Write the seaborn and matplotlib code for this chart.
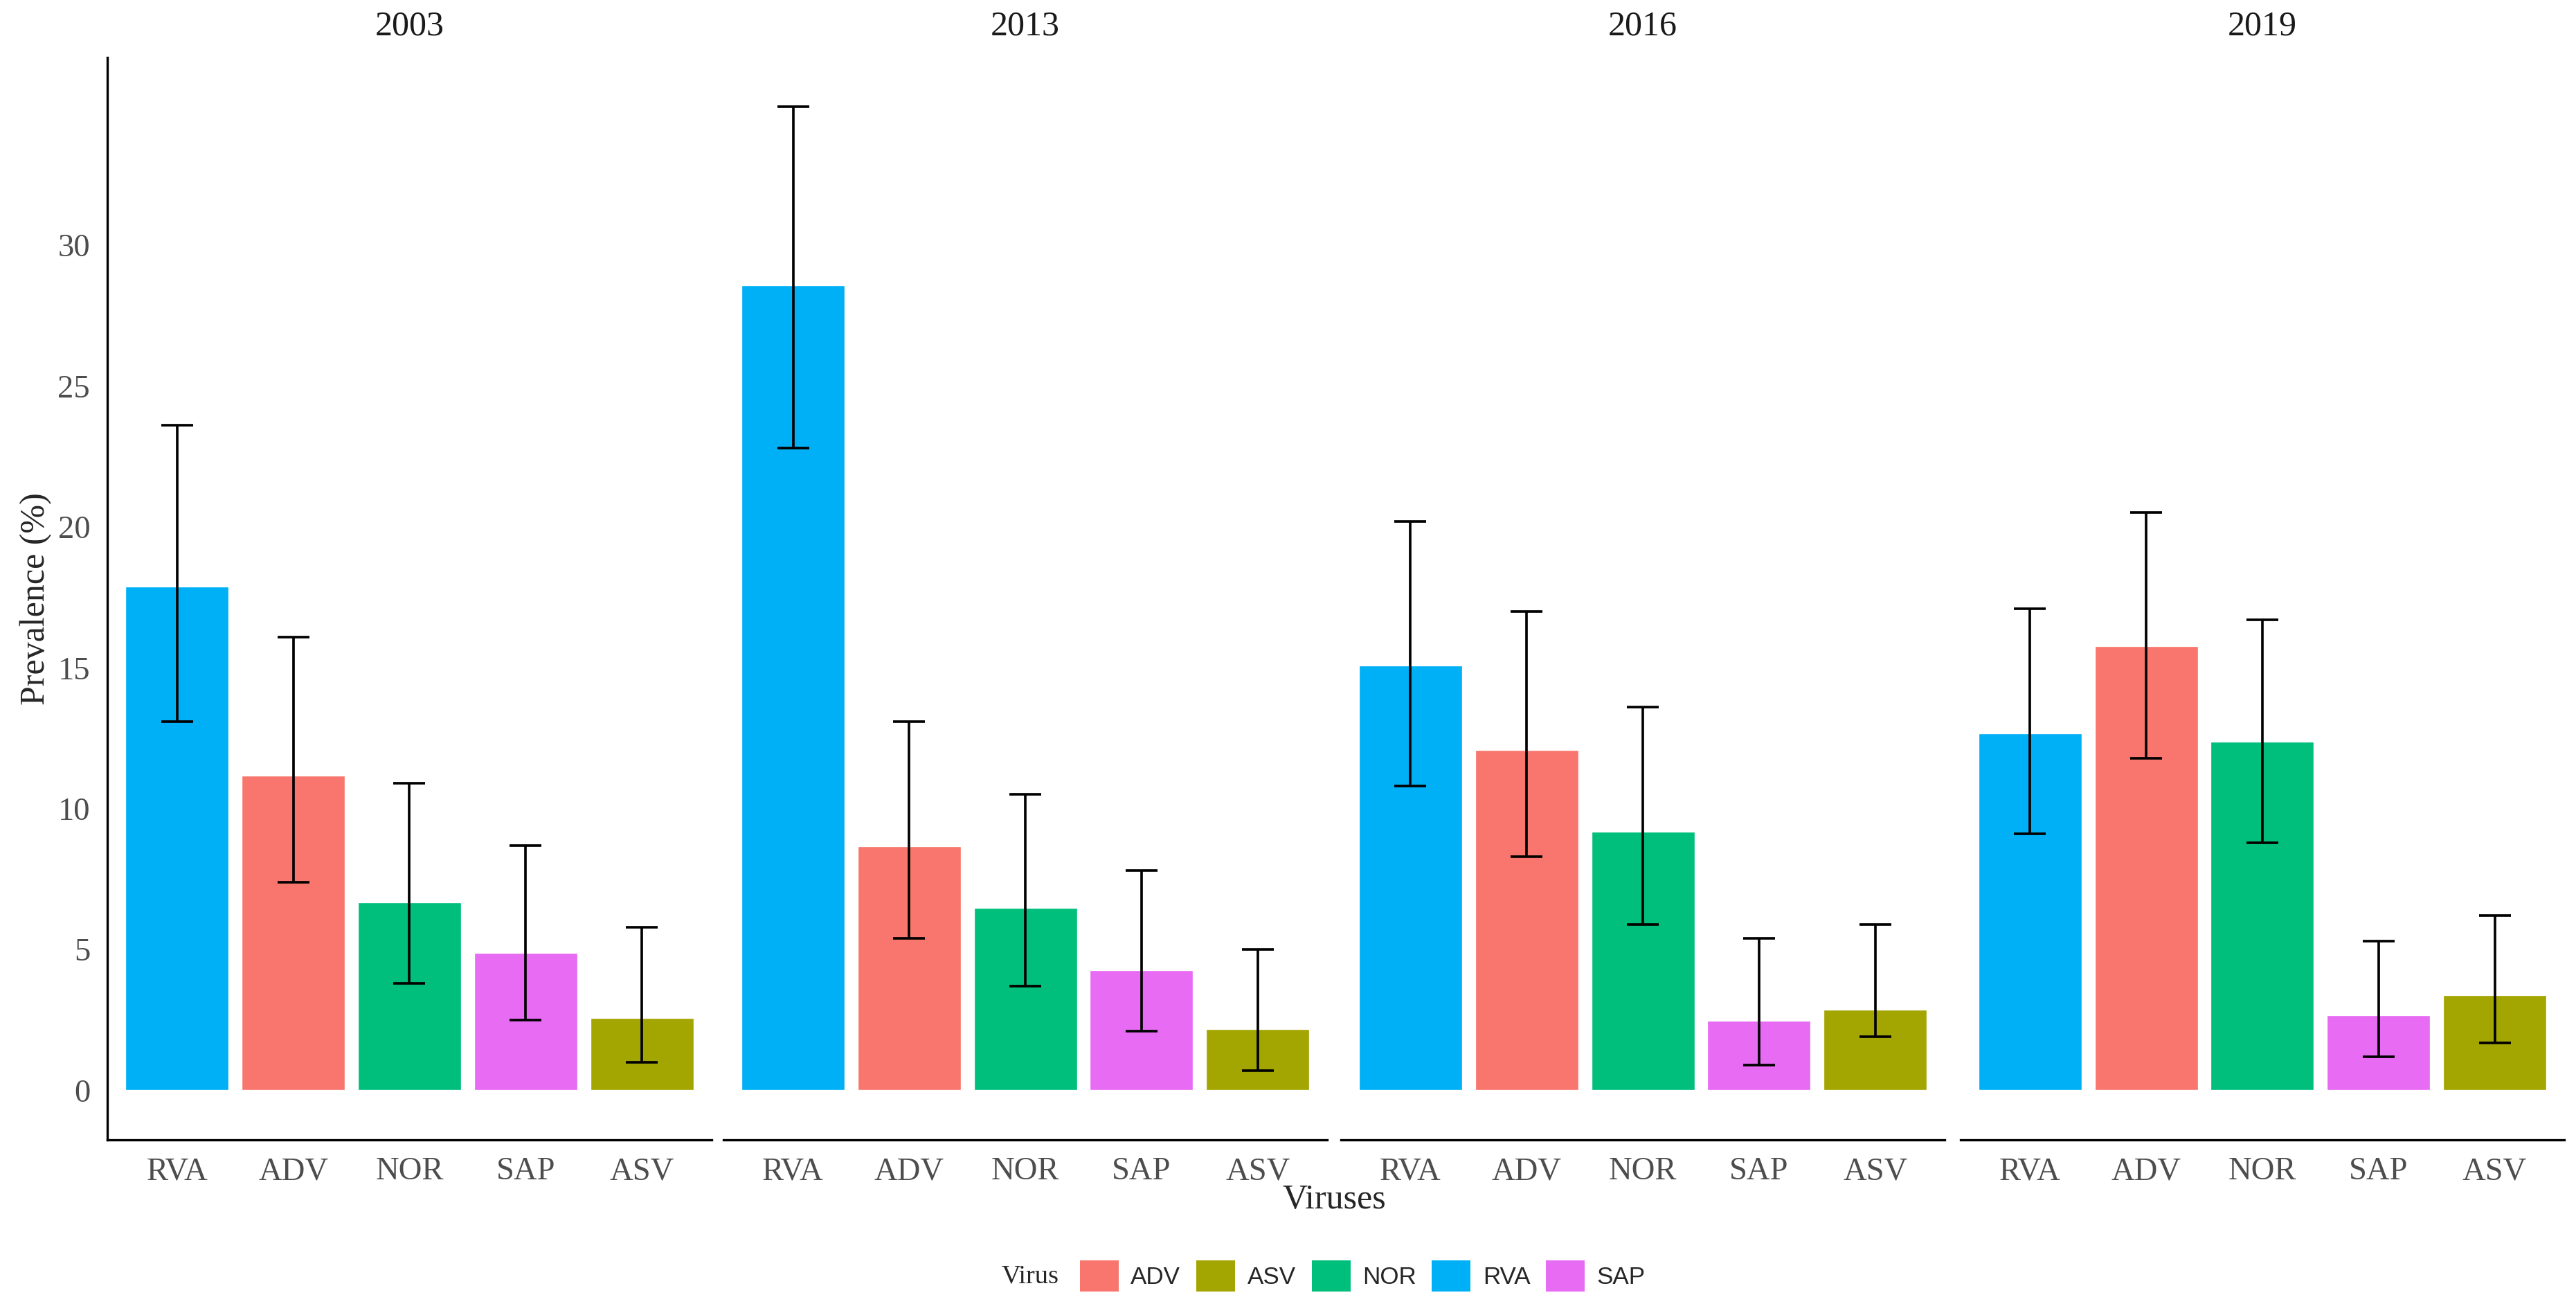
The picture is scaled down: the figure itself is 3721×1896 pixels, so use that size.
import numpy as np
import pandas as pd
import seaborn as sns
import matplotlib
matplotlib.use("Agg")
import matplotlib.pyplot as plt
from matplotlib.patches import Patch

# data
years = ["2003", "2013", "2016", "2019"]
viruses = ["RVA", "ADV", "NOR", "SAP", "ASV"]

prev_2003 = [17.9, 11.2, 6.7, 4.9, 2.6]
low_2003 = [13.1, 7.4, 3.8, 2.5, 1.0]
high_2003 = [23.6, 16.1, 10.9, 8.7, 5.8]

prev_2013 = [28.6, 8.7, 6.5, 4.3, 2.2]
low_2013 = [22.8, 5.4, 3.7, 2.1, 0.7]
high_2013 = [34.9, 13.1, 10.5, 7.8, 5.0]

prev_2016 = [15.1, 12.1, 9.2, 2.5, 2.9]
low_2016 = [10.8, 8.3, 5.9, 0.9, 1.9]
high_2016 = [20.2, 17.0, 13.6, 5.4, 5.9]

prev_2019 = [12.7, 15.8, 12.4, 2.7, 3.4]
low_2019 = [9.1, 11.8, 8.8, 1.2, 1.7]
high_2019 = [17.1, 20.5, 16.7, 5.3, 6.2]

legend_order = ["ADV", "ASV", "NOR", "RVA", "SAP"]
palette = {"ADV": "#F8766D", "ASV": "#A3A500", "NOR": "#00BF7D",
           "RVA": "#00B0F6", "SAP": "#E76BF3"}

rows = []
for yr, p, lo, hi in zip(years,
                         [prev_2003, prev_2013, prev_2016, prev_2019],
                         [low_2003, low_2013, low_2016, low_2019],
                         [high_2003, high_2013, high_2016, high_2019]):
    for v, a, b, c in zip(viruses, p, lo, hi):
        rows.append({"Year": yr, "Virus": v, "Prevalence": a, "Low": b, "High": c})
df = pd.DataFrame(rows)

sns.set_style("white")
plt.rcParams["font.family"] = ["Liberation Serif", "DejaVu Serif"]

fig = plt.figure(figsize=(3721 / 240, 1896 / 240), dpi=240)

lefts = [0.0417, 0.2808, 0.5205, 0.7610]
width = 0.2345
bottom, top = 0.132, 0.956
axes = []
for i, yr in enumerate(years):
    ax = fig.add_axes([lefts[i], bottom, width, top - bottom],
                      sharey=axes[0] if axes else None)
    axes.append(ax)
    d = df[df["Year"] == yr]
    sns.barplot(data=d, x="Virus", y="Prevalence", hue="Virus", order=viruses,
                palette=palette, width=0.9, saturation=1, legend=False, ax=ax)
    vals = d["Prevalence"].to_numpy()
    yerr = [vals - d["Low"].to_numpy(), d["High"].to_numpy() - vals]
    ax.errorbar(x=np.arange(len(viruses)), y=vals, yerr=yerr, fmt="none",
                ecolor="black", elinewidth=1.1, capsize=7, capthick=1.1, zorder=3)
    ax.set_xlim(-0.6, 4.6)
    ax.set_ylim(-1.745, 36.645)
    ax.set_title(yr, fontsize=15, color="#1A1A1A", pad=10)
    ax.set_xlabel("")
    ax.set_ylabel("")
    for s in ["top", "right"]:
        ax.spines[s].set_visible(False)
    ax.spines["bottom"].set_linewidth(1.0)
    ax.spines["bottom"].set_color("black")
    ax.tick_params(axis="x", length=3.5, width=1.0, color="#333333",
                   labelsize=14, labelcolor="#4D4D4D", pad=4)
    if i == 0:
        ax.spines["left"].set_linewidth(1.0)
        ax.spines["left"].set_color("black")
        ax.set_yticks([0, 5, 10, 15, 20, 25, 30])
        ax.tick_params(axis="y", length=3.5, width=1.0, color="#333333",
                       labelsize=14, labelcolor="#4D4D4D", pad=4)
    else:
        ax.spines["left"].set_visible(False)
        ax.tick_params(axis="y", left=False, labelleft=False)

fig.text(0.014, (bottom + top) / 2, "Prevalence (%)", rotation=90,
         ha="center", va="center", fontsize=15)
fig.text(0.518, 0.086, "Viruses", ha="center", va="center", fontsize=15)

handles = [Patch(facecolor=palette[v], edgecolor="none", label=v) for v in legend_order]
fig.legend(handles=handles, loc="center", bbox_to_anchor=(0.529, 0.028), ncol=5,
           frameon=False, handlelength=1.6, handleheight=1.6, handletextpad=0.5,
           columnspacing=0.65, prop={"family": "Liberation Sans", "size": 10.5})
fig.text(0.411, 0.028, "Virus", ha="right", va="center", fontsize=11.5)

fig.savefig("out.png", dpi=240)
